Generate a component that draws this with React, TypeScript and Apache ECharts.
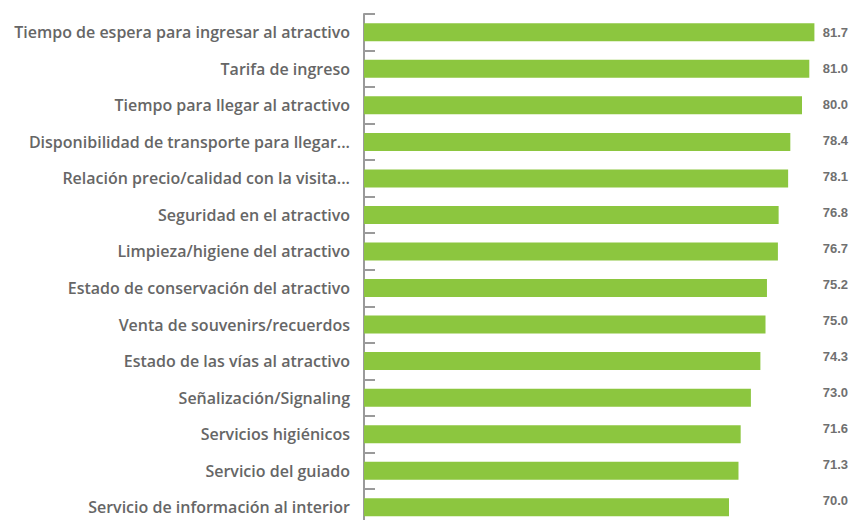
import React, { useEffect, useRef } from "react";
import * as echarts from "echarts";

const categories = [
  "Tiempo de espera para ingresar al atractivo",
  "Tarifa de ingreso",
  "Tiempo para llegar al atractivo",
  "Disponibilidad de transporte para llegar...",
  "Relación precio/calidad con la visita...",
  "Seguridad en el atractivo",
  "Limpieza/higiene del atractivo",
  "Estado de conservación del atractivo",
  "Venta de souvenirs/recuerdos",
  "Estado de las vías al atractivo",
  "Señalización/Signaling",
  "Servicios higiénicos",
  "Servicio del guiado",
  "Servicio de información al interior",
];

const values = [81.7, 81.0, 80.0, 78.4, 78.1, 76.8, 76.7, 75.2, 75.0, 74.3, 73.0, 71.6, 71.3, 70.0];

const valueLabels = values.map((v) => v.toFixed(1));

export default function App() {
  const ref = useRef<HTMLDivElement>(null);
  useEffect(() => {
    if (!ref.current) return;
    const chart = echarts.init(ref.current, null, { renderer: "svg" });
    chart.setOption({
      animation: false,
      grid: [
        { left: 364, top: 14, width: 474.5, height: 511.5 },
        { left: 848, top: 14, width: 2, height: 505 },
      ],
      xAxis: [
        { type: "value", gridIndex: 0, min: 20, max: 85, show: false, splitLine: { show: false } },
        { type: "value", gridIndex: 1, min: 0, max: 1, show: false, splitLine: { show: false } },
      ],
      yAxis: [
        {
          type: "category",
          gridIndex: 0,
          data: categories,
          inverse: true,
          axisLine: { show: true, lineStyle: { color: "#9a9a9a", width: 2 } },
          axisTick: { show: true, inside: true, length: 11, lineStyle: { color: "#9a9a9a", width: 2 } },
          axisLabel: {
            margin: 14,
            color: "#666666",
            fontFamily: "Open Sans",
            fontWeight: 600,
            fontSize: 16,
          },
        },
        {
          type: "category",
          gridIndex: 1,
          data: valueLabels,
          inverse: true,
          axisLine: { show: false },
          axisTick: { show: false },
          axisLabel: {
            margin: 0,
            color: "#707070",
            fontFamily: "Liberation Sans",
            fontWeight: "bold",
            fontSize: 13,
          },
        },
      ],
      series: [
        {
          type: "bar",
          xAxisIndex: 0,
          yAxisIndex: 0,
          data: values,
          barWidth: 18,
          itemStyle: { color: "#8cc63f" },
        },
      ],
    });
    return () => chart.dispose();
  }, []);
  return (
    <div style={{ position: "absolute", left: 0, top: 0, width: 852, height: 520, overflow: "hidden" }}>
      <div ref={ref} style={{ width: 852, height: 540 }} />
    </div>
  );
}
